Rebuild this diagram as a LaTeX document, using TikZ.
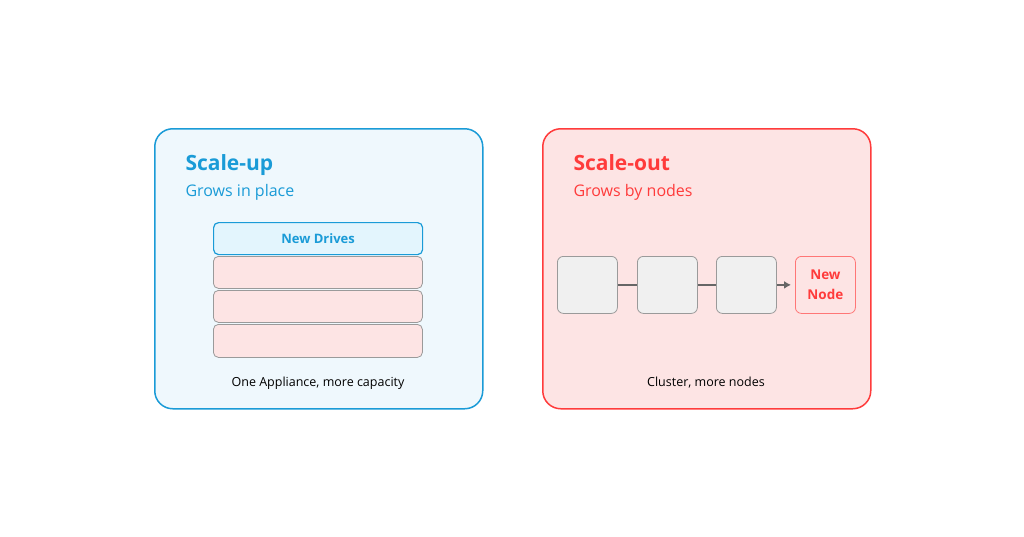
\documentclass[tikz,border=0pt]{standalone}
\usepackage{fontspec}
\setmainfont{Open Sans}
\usetikzlibrary{arrows.meta}
\definecolor{bl}{HTML}{1A9BD7}
\definecolor{blf}{HTML}{EFF8FD}
\definecolor{blf2}{HTML}{E3F5FD}
\definecolor{rd}{HTML}{FF3B3B}
\definecolor{rdf}{HTML}{FDE4E4}
\definecolor{gf}{HTML}{F0F0F0}
\definecolor{gb}{HTML}{9A9A9A}
\begin{document}
\begin{tikzpicture}[x=1pt,y=-1pt,
 panel/.style={draw=#1,line width=1.5pt,rounded corners=18pt},
 drive/.style={draw=gb,fill=rdf,rounded corners=5pt,line width=0.8pt},
 srv/.style={draw=gb,fill=gf,rounded corners=6pt,line width=0.8pt},
 ttl/.style={anchor=base west,font=\fontsize{21}{24}\selectfont\bfseries},
 sub/.style={anchor=base west,font=\fontsize{16}{18}\selectfont},
 captxt/.style={font=\fontsize{12.5}{14}\selectfont}]
\useasboundingbox (0,0) rectangle (1024,536);
\fill[white] (0,0) rectangle (1024,536);
\node[panel=bl,fill=blf,minimum width=328pt,minimum height=280pt,anchor=north west] (L) at (154,128) {};
\node[panel=rd,fill=rdf,minimum width=328pt,minimum height=280pt,anchor=north west] (R) at (542,128) {};
\node[ttl,text=bl] (lt) at (182,170) {Scale-up};
\node[sub,text=bl] (ls) at (182,196) {Grows in place};
\node[ttl,text=rd] (rt) at (570,170) {Scale-out};
\node[sub,text=rd] (rs) at (570,196) {Grows by nodes};
\node[draw=bl,fill=blf2,rounded corners=5pt,line width=1.2pt,minimum width=209pt,minimum height=32pt,anchor=north west,text=bl,font=\fontsize{13}{14}\selectfont\bfseries] (nd) at (213,222) {New Drives};
\node[drive,minimum width=209pt,minimum height=32pt,anchor=north west] (d1) at (213,256) {};
\node[drive,minimum width=209pt,minimum height=32pt,anchor=north west] (d2) at (213,290) {};
\node[drive,minimum width=209pt,minimum height=33pt,anchor=north west] (d3) at (213,324) {};
\node[captxt] (lc) at (318,383) {One Appliance, more capacity};
\node[srv,minimum width=60pt,minimum height=57pt,anchor=north west] (s1) at (557,256) {};
\node[srv,minimum width=60pt,minimum height=57pt,anchor=north west] (s2) at (637,256) {};
\node[srv,minimum width=60pt,minimum height=57pt,anchor=north west] (s3) at (716,256) {};
\node[draw=rd!70,fill=rdf,rounded corners=6pt,line width=0.8pt,minimum width=60pt,minimum height=57pt,anchor=north west,text=rd,align=center,font=\fontsize{13.5}{20}\selectfont\bfseries] (nn) at (795,256) {New\\Node};
\draw[gray!80!black,line width=1.5pt] (s1) -- (s2);
\draw[gray!80!black,line width=1.5pt] (s2) -- (s3);
\draw[gray!80!black,line width=1.5pt,-{Latex[length=7pt,width=8pt]}] (s3.east) -- ([xshift=-4pt]nn.west);
\node[captxt] (rc) at (706,383) {Cluster, more nodes};
\end{tikzpicture}
\end{document}
